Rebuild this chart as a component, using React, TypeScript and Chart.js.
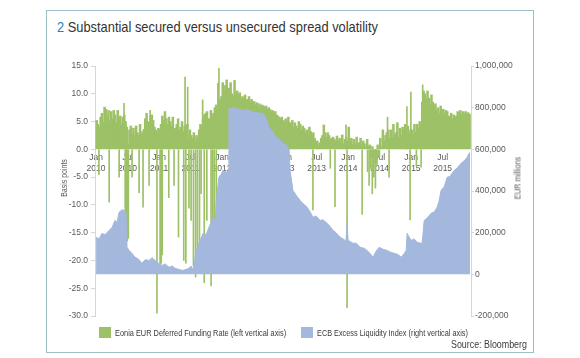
import React, { useEffect, useLayoutEffect, useRef } from "react";
import { Chart, registerables } from "chart.js";

Chart.register(...registerables);

const FONT = "'Liberation Sans', Arial, sans-serif";

// x-axis tick positions (months since Jan 2010) and their labels
const xTickMonths = [0, 6, 12, 18, 24, 30, 36, 42, 48, 54, 60, 66];
const xTickLabels = [
  ["Jan", "2010"], ["Jul", "2010"], ["Jan", "2011"], ["Jul", "2011"],
  ["Jan", "2012"], ["Jul", "2012"], ["Jan", "2013"], ["Jul", "2013"],
  ["Jan", "2014"], ["Jul", "2014"], ["Jan", "2015"], ["Jul", "2015"],
];

// Eonia EUR deferred funding rate, weekly level (basis points), 4 values per month
const green2010 = [
  5.2, 4.5, 4.0, 5.8, 6.5, 4.8, 7.6, 7.2, 6.0, 7.0, 5.0, 6.8,
  5.5, 7.0, 6.2, 4.8, 7.0, 5.5, 6.0, 4.5, 5.8, 6.2, 5.0, 4.0,
  1.0, 3.5, 4.2, 2.8, 3.8, 2.5, 4.2, 3.0, 2.5, 4.5, 2.8, 3.2,
  3.6, 5.5, 6.5, 5.0, 4.8, 6.0, 6.2, 5.2, 4.0, 3.5, 3.0, 3.8,
];
const green2011 = [
  3.5, 4.5, 6.0, 5.2, 6.8, 5.5, 4.5, 5.8, 5.0, 4.2, 5.8, 3.6,
  3.8, 4.5, 5.5, 3.5, 4.0, 5.0, 3.2, 4.2, 3.0, 4.5, 2.0, 3.5,
  2.5, 2.0, 3.0, 1.5, 2.5, 2.0, 3.5, 4.5, 4.2, 5.5, 6.2, 6.5,
  6.8, 5.5, 5.5, 7.0, 6.0, 6.5, 7.5, 8.0, 7.0, 8.5, 9.0, 9.5,
];
const green2012 = [
  12.0, 10.5, 11.5, 12.5, 10.5, 11.0, 12.0, 10.0, 9.5, 12.4, 10.0, 10.5,
  9.8, 10.2, 9.0, 9.5, 9.2, 9.8, 8.8, 9.0, 9.5, 8.5, 9.0, 8.6,
  8.6, 8.0, 8.4, 7.8, 8.2, 7.6, 8.0, 7.8, 7.6, 7.8, 7.2, 7.5,
  7.2, 6.8, 7.0, 6.5, 6.8, 6.2, 6.0, 5.8, 5.5, 5.8, 5.2, 5.0,
];
const green2013 = [
  5.5, 5.0, 5.8, 4.8, 4.5, 5.2, 4.0, 4.8, 4.2, 3.8, 5.0, 4.5,
  3.5, 4.2, 3.8, 3.0, 3.5, 2.5, 4.0, 3.2, 2.5, 3.0, 2.0, 1.5,
  1.5, 0.8, 1.2, 2.0, 2.5, 4.4, 3.0, 2.2, 3.0, 2.5, 1.8, 2.0,
  2.2, 1.8, 1.5, 2.4, 1.5, 2.0, 1.2, 2.6, 1.0, 1.8, 2.2, 1.5,
];
const green2014 = [
  4.0, 1.5, 2.0, 0.8, 1.8, 1.0, 2.2, 0.5, 1.2, 2.0, 0.6, 1.5,
  1.0, 0.5, 1.8, 0.6, 0.8, -1.5, 0.5, -2.0, -2.5, -1.0, 0.8, -1.5,
  2.0, 0.5, 3.5, 1.5, 2.5, 3.0, 3.5, 2.0, 3.5, 2.0, 4.5, 2.5,
  3.0, 4.8, 2.2, 3.8, 2.5, 4.0, 3.5, 4.5, 3.0, 4.2, 2.8, 3.5,
];
const green2015 = [
  3.5, 2.5, 4.5, 3.0, 4.5, 3.8, 5.0, 4.2, 8.5, 10.5, 10.0, 9.0,
  10.5, 9.2, 8.0, 9.8, 8.5, 7.8, 8.2, 7.0, 7.5, 6.5, 7.8, 6.8,
  7.2, 6.5, 7.0, 6.8, 6.0, 5.8, 6.5, 5.5, 6.2, 5.8, 6.0, 6.8,
  6.5, 7.0, 6.2, 6.8, 6.4, 6.8, 6.2, 6.6, 6.3,
];

// single-day spikes of the funding rate (month position, basis points)
const spikeMonths = [
  0.55, 2.5, 4.4, 5.33, 5.55, 5.75, 5.95, 6.15, 6.86, 8.2,
  8.95, 10.1, 10.3, 11.6, 12.2, 12.4, 12.6, 13.85, 14.85, 15.7,
  16.7, 16.95, 17.1, 17.45, 17.7, 18.1, 18.55, 18.95, 19.3, 19.7,
  20.0, 20.3, 20.6, 21.1, 21.9, 22.2, 22.5, 22.9, 23.2, 23.4,
  41.3, 44.6, 45.5, 47.6, 47.8, 50.67, 51.7, 52.0, 52.3, 52.6,
  52.9, 53.2, 53.5, 55.5, 55.8, 59.2, 59.8, 59.95, 61.0, 61.9,
  62.2,
];
const spikeValues = [
  -4.5, -9.5, -5.0, 8.3, -15.5, -17.0, -16.5, -16.0, -5.0, -7.8,
  -10.4, -6.5, 7.0, -29.5, -21.5, -20.5, -19.0, -8.7, -6.5, -15.8,
  -20.0, 13.0, -20.5, 11.2, -10.6, -12.8, -21.0, -23.0, -18.7, -18.0,
  -8.0, 8.9, -24.0, -12.8, -24.6, -17.0, -16.0, -13.0, 11.9, 14.6,
  -10.9, -3.4, -10.3, 4.4, -28.5, -11.7, -4.0, -6.5, -3.5, -8.0,
  -5.0, -7.0, -3.0, 5.8, -5.0, 7.7, -12.7, 10.3, -3.0, -3.2,
  11.6,
];

// ECB excess liquidity (EUR millions)
const liquidityMonths = [
  0, 0.57, 1.14, 1.7, 2.48, 3.05, 3.6, 4.0, 4.38, 4.95,
  5.33, 5.7, 5.9, 6.29, 6.86, 7.43, 8.0, 8.76, 9.33, 10.1,
  10.67, 11.24, 11.8, 12.57, 13.14, 13.9, 14.5, 15.05, 15.6, 16.4,
  16.95, 17.7, 18.1, 18.5, 19.05, 19.6, 20.4, 20.95, 21.5, 22.3,
  22.7, 22.9, 23.4, 23.8, 24.2, 24.76, 25.14, 25.3, 26.7, 28.0,
  28.95, 29.9, 30.86, 31.8, 32.4, 32.95, 33.5, 34.3, 34.86, 35.6,
  36.4, 36.76, 36.95, 37.5, 38.1, 38.86, 39.4, 40.2, 40.76, 41.3,
  41.9, 42.67, 43.2, 44.0, 44.57, 45.14, 45.7, 46.5, 47.05, 47.6,
  47.8, 48.0, 48.95, 49.5, 50.29, 51.05, 51.6, 52.2, 52.76, 53.3,
  53.9, 54.67, 55.4, 56.2, 56.76, 57.5, 58.1, 58.67, 59.05, 59.24,
  59.6, 60.0, 60.57, 61.14, 61.7, 62.1, 62.48, 63.05, 63.8, 64.4,
  64.95, 65.3, 65.7, 66.3, 66.86, 67.4, 68.2, 68.76, 69.5, 70.1,
  70.67, 71.05, 71.24,
];
const liquidityValues = [
  178000, 170000, 197000, 190000, 211000, 225000, 259000, 250000, 298000, 310000,
  307000, 300000, 130000, 115000, 100000, 82000, 75000, 53000, 70000, 67000,
  80000, 67000, 55000, 43000, 50000, 34000, 40000, 29000, 25000, 19000,
  22000, 29000, 40000, 20000, 110000, 150000, 197000, 190000, 226000, 274000,
  260000, 355000, 466000, 480000, 499000, 490000, 500000, 797000, 797000, 787000,
  790000, 778000, 775000, 773000, 750000, 706000, 690000, 658000, 650000, 629000,
  619000, 600000, 499000, 403000, 380000, 355000, 340000, 322000, 300000, 274000,
  280000, 259000, 262000, 245000, 230000, 211000, 200000, 178000, 170000, 160000,
  250000, 163000, 149000, 150000, 130000, 125000, 115000, 100000, 82000, 110000,
  130000, 120000, 115000, 105000, 101000, 95000, 82000, 100000, 115000, 197000,
  180000, 163000, 170000, 154000, 150000, 149000, 259000, 270000, 293000, 300000,
  322000, 350000, 403000, 420000, 466000, 470000, 499000, 510000, 533000, 545000,
  562000, 581000, 585000,
];

const GREEN = "#9dc166";
const BLUE = "#a3b8dc";
const TICK = "#5a5a5a";
const AXIS = "#d6d6d6";

// Text squeezed horizontally to the width it has in the reference (condensed face look-alike)
function FitText(props: {
  width: number;
  style: React.CSSProperties;
  origin?: string;
  pre?: string;
  children: React.ReactNode;
}) {
  const ref = useRef<HTMLDivElement | null>(null);
  useLayoutEffect(() => {
    const el = ref.current;
    if (!el) return;
    const apply = () => {
      const nat = el.offsetWidth;
      const k = nat > 0 ? props.width / nat : 1;
      el.style.transform = `${props.pre || ""} scaleX(${k})`;
    };
    apply();
    if ((document as any).fonts && (document as any).fonts.ready) {
      (document as any).fonts.ready.then(apply);
    }
  }, []);
  return (
    <div
      ref={ref}
      style={{
        position: "absolute",
        whiteSpace: "nowrap",
        transformOrigin: props.origin || "left center",
        ...props.style,
      }}
    >
      {props.children}
    </div>
  );
}

export default function App() {
  const canvasRef = useRef<HTMLCanvasElement | null>(null);

  useEffect(() => {
    const canvas = canvasRef.current;
    if (!canvas) return;
    const greenWeekly = [
      ...green2010, ...green2011, ...green2012, ...green2013, ...green2014, ...green2015,
    ];
    const chart = new Chart(canvas, {
      type: "bar",
      data: {
        datasets: [
          {
            type: "line",
            label: "ECB Excess Liquidity Index (right vertical axis)",
            data: liquidityMonths.map((m, i) => ({ x: m, y: liquidityValues[i] })),
            yAxisID: "y2",
            xAxisID: "x",
            fill: "origin",
            backgroundColor: BLUE,
            borderColor: BLUE,
            borderWidth: 1,
            pointRadius: 0,
            tension: 0,
          } as any,
          {
            type: "bar",
            label: "Eonia EUR Deferred Funding Rate (left vertical axis)",
            data: greenWeekly.map((v, i) => ({ x: i / 4 + 0.125, y: v })),
            yAxisID: "y",
            xAxisID: "x",
            backgroundColor: GREEN,
            borderWidth: 0,
            barThickness: 1.9,
            grouped: false,
          } as any,
          {
            type: "bar",
            label: "spikes",
            data: spikeMonths.map((m, i) => ({ x: m, y: spikeValues[i] })),
            yAxisID: "y",
            xAxisID: "x",
            backgroundColor: GREEN,
            borderWidth: 0,
            barThickness: 1,
            grouped: false,
          } as any,
        ],
      },
      options: {
        responsive: false,
        maintainAspectRatio: false,
        animation: false,
        events: [],
        layout: { padding: { left: 0, right: 0, top: 66, bottom: 42 } },
        plugins: {
          legend: { display: false },
          tooltip: { enabled: false },
          title: { display: false },
        },
        scales: {
          x: {
            type: "linear",
            min: -0.2,
            max: 71.4,
            offset: false,
            position: { y: 0 } as any,
            z: 1,
            grid: { display: false, drawTicks: false },
            border: { display: false },
            afterBuildTicks: (scale: any) => {
              scale.ticks = xTickMonths.map((v) => ({ value: v }));
            },
            ticks: {
              autoSkip: false,
              maxRotation: 0,
              minRotation: 0,
              padding: 3,
              color: TICK,
              font: { family: FONT, size: 8.5, lineHeight: 1.25 },
              callback: (v: any) => {
                const i = xTickMonths.indexOf(Number(v));
                return i >= 0 ? xTickLabels[i] : "";
              },
            },
          },
          y: {
            type: "linear",
            position: "left",
            min: -30,
            max: 15,
            afterFit: (scale: any) => {
              scale.width = 95;
            },
            grid: {
              display: true,
              drawOnChartArea: false,
              drawTicks: true,
              tickLength: 4,
              color: AXIS,
            },
            border: { display: true, color: AXIS },
            ticks: {
              stepSize: 5,
              padding: 3,
              color: TICK,
              font: { family: FONT, size: 8.5 },
              callback: (v: any) => Number(v).toFixed(1),
            },
          },
          y2: {
            type: "linear",
            position: "right",
            min: -200000,
            max: 1000000,
            afterFit: (scale: any) => {
              scale.width = 109;
            },
            grid: {
              display: true,
              drawOnChartArea: false,
              drawTicks: true,
              tickLength: 3,
              color: AXIS,
            },
            border: { display: true, color: AXIS },
            ticks: {
              stepSize: 200000,
              padding: 1,
              color: TICK,
              font: { family: FONT, size: 8.5 },
              callback: (v: any) => Number(v).toLocaleString("en-US"),
            },
          },
        },
      } as any,
    });
    return () => chart.destroy();
  }, []);

  const abs = (s: React.CSSProperties): React.CSSProperties => ({ position: "absolute", ...s });
  const rot = "translate(-50%, -50%) rotate(-90deg)";

  return (
    <div
      style={abs({
        left: 0,
        top: 0,
        width: 580,
        height: 358,
        background: "#ffffff",
        overflow: "hidden",
        fontFamily: FONT,
      })}
    >
      <div style={abs({ left: 46, top: 10, width: 486, height: 341, border: "1px solid #9fbfc6" })} />
      <FitText
        width={321}
        style={{ left: 57, top: 19, fontSize: 14.5, lineHeight: "16px", color: "#333333" }}
      >
        <span style={{ color: "#2f7db0" }}>2</span> Substantial secured versus unsecured spread volatility
      </FitText>
      <canvas ref={canvasRef} width={580} height={358} style={abs({ left: 0, top: 0, width: 580, height: 358 })} />
      <FitText
        width={38}
        origin="center center"
        pre={rot}
        style={{ left: 64, top: 178, fontSize: 9, lineHeight: "11px", color: TICK }}
      >
        Basis points
      </FitText>
      <FitText
        width={43}
        origin="center center"
        pre={rot}
        style={{ left: 518, top: 178, fontSize: 9, lineHeight: "11px", color: TICK }}
      >
        EUR millions
      </FitText>
      <div style={abs({ left: 99, top: 327, width: 12, height: 11, background: GREEN })} />
      <FitText
        width={171}
        style={{ left: 115, top: 327, fontSize: 9.5, lineHeight: "12px", color: "#3a3a3a" }}
      >
        Eonia EUR Deferred Funding Rate (left vertical axis)
      </FitText>
      <div style={abs({ left: 301, top: 327, width: 12, height: 11, background: BLUE })} />
      <FitText
        width={151}
        style={{ left: 317, top: 327, fontSize: 9.5, lineHeight: "12px", color: "#3a3a3a" }}
      >
        ECB Excess Liquidity Index (right vertical axis)
      </FitText>
      <FitText
        width={76}
        origin="right center"
        style={{ right: 580 - 527, top: 338, fontSize: 10.5, lineHeight: "13px", color: "#3a3a3a" }}
      >
        Source: Bloomberg
      </FitText>
    </div>
  );
}
